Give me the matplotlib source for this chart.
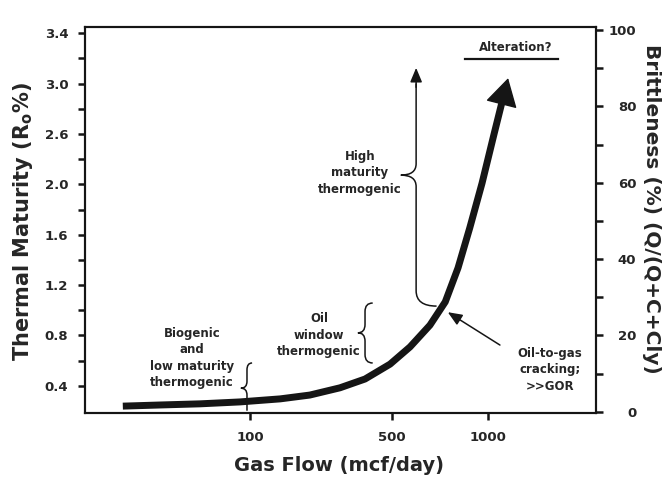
import numpy as np
import matplotlib
matplotlib.use('Agg')
import matplotlib.pyplot as plt
from matplotlib.path import Path
from matplotlib.patches import PathPatch

# ---- data ----
# thermal maturity labels on the left axis (evenly spaced, as in the figure)
ro_labels = ['0.4', '0.8', '1.2', '1.6', '2.0', '2.6', '3.0', '3.4']
# brittleness on the right axis
brit_ticks = [0, 20, 40, 60, 80, 100]
brit_minor = [10, 30, 50, 70, 90]
# gas flow labels on the bottom axis
flow_labels = ['100', '500', '1000']
# the maturity curve (x: position along gas flow axis, 0-100 ; y: brittleness %)
curve_x = [7.4, 14.7, 22.5, 30.3, 38.2, 44.0, 49.9, 54.8, 59.7, 63.6, 67.5, 70.5,
           73.0, 75.3, 77.7, 80.0, 81.6, 82.8]
curve_y = [1.5, 1.8, 2.1, 2.6, 3.4, 4.4, 6.3, 8.6, 12.5, 17.0, 22.7, 28.8,
           37.7, 48.2, 59.9, 72.5, 81.1, 87.4]

ink = '#151515'
txt = '#262626'
plt.rcParams['font.family'] = 'DejaVu Sans'
plt.rcParams['font.weight'] = 'bold'
plt.rcParams['axes.labelweight'] = 'bold'


def brace(ax, x, y_bot, y_top, y_tip, w_tip, w_top, w_bot, h_tip, h_end):
    # left pointing curly brace drawn as a path
    verts = []
    codes = []
    if w_top:
        verts += [(x + w_top, y_top), (x, y_top), (x, y_top - h_end)]
        codes += [Path.MOVETO, Path.CURVE3, Path.CURVE3]
    else:
        verts += [(x, y_top)]
        codes += [Path.MOVETO]
    verts += [(x, y_tip + h_tip), (x, y_tip), (x - w_tip, y_tip), (x, y_tip), (x, y_tip - h_tip)]
    codes += [Path.LINETO, Path.CURVE3, Path.CURVE3, Path.CURVE3, Path.CURVE3]
    if w_bot:
        verts += [(x, y_bot + h_end), (x, y_bot), (x + w_bot, y_bot)]
        codes += [Path.LINETO, Path.CURVE3, Path.CURVE3]
    else:
        verts += [(x, y_bot)]
        codes += [Path.LINETO]
    ax.add_patch(PathPatch(Path(verts, codes), fill=False, lw=1.1, edgecolor=ink))


fig = plt.figure(figsize=(6.71, 4.82), dpi=100)
ax = fig.add_axes([85/671, 69/482, 511/671, 386/482])
ax.set_xlim(0, 100)
ax.set_ylim(-0.3, 100.8)

# main curve + arrow head
ax.plot(curve_x[:-1], curve_y[:-1], color=ink, lw=5, solid_capstyle='butt', solid_joinstyle='round')
ax.annotate('', xy=(curve_x[-1], curve_y[-1]), xytext=(curve_x[-2], curve_y[-2]),
            arrowprops=dict(arrowstyle='-|>,head_length=0.9,head_width=0.52', mutation_scale=20,
                            color=ink, lw=1, shrinkA=0, shrinkB=0))

# left axis (thermal maturity)
ro_pos = np.linspace(6.8, 99.2, len(ro_labels))
ax.set_yticks(ro_pos)
ax.set_yticklabels(ro_labels)
ax.set_yticks((ro_pos[:-1] + ro_pos[1:]) / 2, minor=True)
ax.tick_params(axis='y', which='both', direction='out', length=5, width=1.8, color=ink,
               pad=7, labelsize=9.5, labelcolor=txt)

# bottom axis (gas flow)
ax.set_xticks([32.3, 60.1, 78.9])
ax.set_xticklabels(flow_labels)
ax.tick_params(axis='x', direction='out', length=5, width=1.8, color=ink,
               pad=8, labelsize=9.5, labelcolor=txt)

# right axis (brittleness)
ax2 = ax.twinx()
ax2.set_ylim(-0.3, 100.8)
ax2.set_yticks(brit_ticks)
ax2.set_yticks(brit_minor, minor=True)
ax2.tick_params(axis='y', which='both', direction='out', length=5, width=1.8, color=ink,
                pad=24, labelsize=9.5, labelcolor=txt)
for lab in ax2.get_yticklabels():
    lab.set_horizontalalignment('right')

for a in (ax, ax2):
    for s in a.spines.values():
        s.set_linewidth(1.5)
        s.set_color(ink)

ax.set_xlabel('Gas Flow (mcf/day)', fontsize=14, color=txt, va='center')
ax.xaxis.set_label_coords(0.497, -0.137)
ax.set_ylabel('Thermal Maturity (R$_\\mathbf{o}$%)', fontsize=15, color=txt, va='center')
ax.yaxis.set_label_coords(-0.121, 0.495)
ax2.set_ylabel('Brittleness (%) (Q/(Q+C+Cly)', fontsize=14.5, color=txt, rotation=270, va='center')
ax2.yaxis.set_label_coords(1.108, 0.53)

# annotations
fs = 8.5
ax.text(20.9, 14.1, 'Biogenic\nand\nlow maturity\nthermogenic', ha='center', va='center',
        fontsize=fs, color=txt, linespacing=1.35)
brace(ax, 31.7, 0.3, 12.8, 6.2, 1.2, 1.0, 0, 1.8, 1.8)

ax.text(45.8, 20.1, 'Oil\nwindow\nthermogenic', ha='center', va='center',
        fontsize=fs, color=txt, linespacing=1.35)
brace(ax, 54.8, 12.8, 28.5, 20.7, 1.4, 1.5, 1.5, 2.2, 2.2)

ax.text(53.8, 62.6, 'High\nmaturity\nthermogenic', ha='center', va='center',
        fontsize=fs, color=txt, linespacing=1.35)
brace(ax, 64.8, 27.7, 86.0, 62.0, 3.0, 0, 4.0, 3.0, 4.0)
ax.annotate('', xy=(64.8, 90.1), xytext=(64.8, 85.0),
            arrowprops=dict(arrowstyle='-|>,head_length=0.86,head_width=0.36', mutation_scale=10,
                            color=ink, lw=1.1, shrinkA=0, shrinkB=0))

ax.text(91.0, 11.0, 'Oil-to-gas\ncracking;\n>>GOR', ha='center', va='center',
        fontsize=fs, color=txt, linespacing=1.35)
ax.annotate('', xy=(71.0, 26.1), xytext=(81.2, 17.5),
            arrowprops=dict(arrowstyle='-|>,head_length=0.86,head_width=0.36', mutation_scale=10,
                            color=ink, lw=1.1, shrinkA=0, shrinkB=0))

ax.text(84.3, 95.3, 'Alteration?', ha='center', va='center', fontsize=fs, color=txt)
ax.plot([74.4, 92.6], [92.4, 92.4], color=ink, lw=1.6)

fig.savefig('out.png', dpi=100, facecolor='white')
